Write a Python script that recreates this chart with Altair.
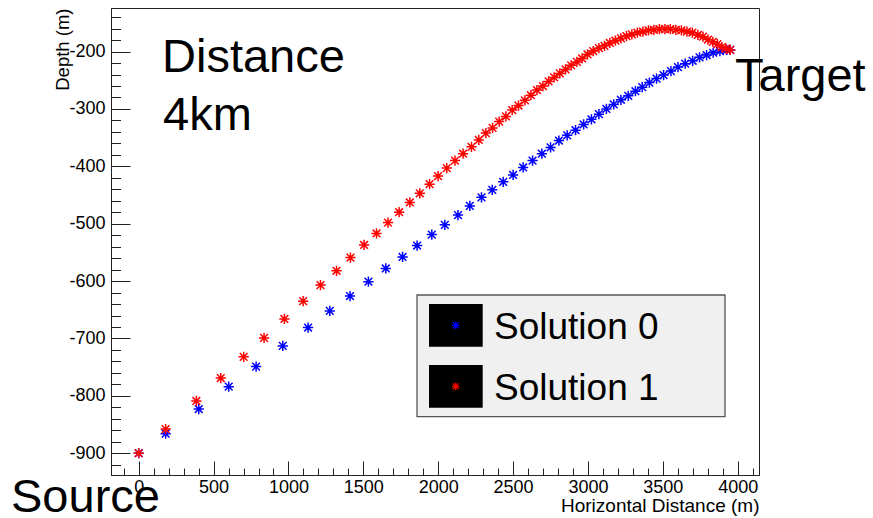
import altair as alt
import pandas as pd

# ---------------- data ----------------
series_names = ["Solution 0", "Solution 1"]
series_colors = ["#0000ff", "#ff0000"]

sol0_x = [0, 180, 401, 601, 784, 962, 1131, 1276, 1411, 1534, 1650, 1762, 1859, 1957,
          2044, 2132, 2211, 2289, 2361, 2434, 2500, 2567, 2630, 2692, 2750, 2806, 2861,
          2917, 2971, 3023, 3073, 3123, 3172, 3220, 3269, 3317, 3362, 3410, 3458, 3505,
          3554, 3601, 3649, 3699, 3745, 3792, 3836, 3881, 3926, 3950]
sol0_y = [-900, -866, -823, -784, -749, -713, -681, -652, -626, -601, -578, -558, -538, -519,
          -502, -485, -469, -454, -441, -427, -415, -402, -390, -378, -367, -355, -346,
          -337, -327, -318, -309, -300, -292, -284, -277, -269, -262, -254, -247, -241,
          -234, -227, -221, -216, -210, -206, -202, -199, -197, -197]

sol1_x = [0, 180, 385, 548, 701, 837, 973, 1098, 1214, 1321, 1414, 1505, 1588, 1665, 1739,
          1810, 1877, 1942, 1999, 2057, 2112, 2166, 2222, 2271, 2318, 2363, 2407, 2452,
          2494, 2536, 2579, 2619, 2659, 2699, 2737, 2774, 2812, 2850, 2888, 2926, 2961,
          2997, 3035, 3073, 3110, 3146, 3183, 3220, 3257, 3293, 3330, 3367, 3404, 3440,
          3477, 3514, 3550, 3587, 3624, 3661, 3697, 3734, 3768, 3801, 3834, 3864, 3894,
          3921, 3950]
sol1_y = [-900, -858, -809, -769, -732, -699, -666, -635, -607, -582, -559, -537, -517, -498,
          -480, -463, -447, -431, -417, -403, -390, -378, -366, -354, -342, -333, -322,
          -313, -302, -294, -285, -276, -267, -260, -252, -245, -238, -231, -224, -218,
          -212, -205, -199, -194, -190, -185, -181, -177, -173, -170, -167, -165, -163,
          -162, -161, -161, -161, -162, -163, -165, -167, -171, -174, -179, -183, -187,
          -192, -195, -197]

x_major = [0, 500, 1000, 1500, 2000, 2500, 3000, 3500, 4000]
x_minor = [v for v in range(-100, 4101, 100) if v % 500 != 0]
y_major = [-900, -800, -700, -600, -500, -400, -300, -200]
y_minor = [v for v in range(-920, -139, 20) if v % 100 != 0]

x_domain = [-185, 4142]
y_domain = [-938, -124]

x_title = "Horizontal Distance (m)"
y_title = "Depth (m)"
annot_distance = ["Distance", "4km"]
annot_target = "Target"
annot_source = "Source"

# ---------------- build ----------------
df = pd.concat([
    pd.DataFrame({"x": sol0_x, "y": sol0_y, "series": series_names[0]}),
    pd.DataFrame({"x": sol1_x, "y": sol1_y, "series": series_names[1]}),
], ignore_index=True)

FONT = "Liberation Sans"
W, H = 648, 467
STAR = "M-1,0L1,0M0,-1L0,1M-0.75,-0.75L0.75,0.75M-0.75,0.75L0.75,-0.75"

xs = alt.Scale(domain=x_domain, nice=False, zero=False)
ys = alt.Scale(domain=y_domain, nice=False, zero=False)

main_x_axis = alt.Axis(orient="bottom", values=x_major, ticks=False, grid=False,
                       labelFont=FONT, labelFontSize=18, labelColor="black", labelPadding=3.5,
                       labelExpr="'' + datum.value", labelFlush=False, labelOverlap=False,
                       domainColor="#222", domainWidth=1,
                       title=x_title, titleFont=FONT, titleFontSize=19, titleFontWeight="normal",
                       titleColor="black", titleAlign="right", titleAnchor="end",
                       titleBaseline="alphabetic", titleX=W, titleY=36.7)
main_y_axis = alt.Axis(orient="left", values=y_major, ticks=False, grid=False,
                       labelFont=FONT, labelFontSize=18, labelColor="black", labelPadding=6,
                       labelExpr="'' + datum.value", labelFlush=False, labelOverlap=False,
                       domainColor="#222", domainWidth=1,
                       title=y_title, titleFont=FONT, titleFontSize=18.5, titleFontWeight="normal",
                       titleColor="black", titleAngle=270, titleAlign="right", titleAnchor="end",
                       titleBaseline="alphabetic", titleX=-43, titleY=0)

points = alt.Chart(df).mark_point(shape=STAR, filled=False, size=105, strokeWidth=1.5, opacity=1).encode(
    x=alt.X("x:Q", scale=xs, axis=main_x_axis),
    y=alt.Y("y:Q", scale=ys, axis=main_y_axis),
    color=alt.Color("series:N", scale=alt.Scale(domain=series_names, range=series_colors), legend=None),
)


def tick_layer(xvals, yvals, xlen, ylen):
    return alt.Chart(df).mark_point(opacity=0).encode(
        x=alt.X("x:Q", scale=xs, axis=alt.Axis(orient="top", offset=-H, values=xvals, tickSize=xlen,
                                                labels=False, domain=False, grid=False, title=None,
                                                tickColor="#222", tickWidth=1)),
        y=alt.Y("y:Q", scale=ys, axis=alt.Axis(orient="right", offset=-W, values=yvals, tickSize=ylen,
                                                labels=False, domain=False, grid=False, title=None,
                                                tickColor="#222", tickWidth=1)),
    )


major_ticks = tick_layer(x_major, y_major, 14, 19)
minor_ticks = tick_layer(x_minor, y_minor, 7, 9.5)

one = pd.DataFrame({"k": [0]})


def label(text, x, y, size=47, align="left"):
    return alt.Chart(one).mark_text(text=text, font=FONT, fontSize=size, color="black",
                                     align=align, baseline="alphabetic").encode(
        x=alt.value(x), y=alt.value(y))


texts = [
    label(annot_distance[0], 51, 64),
    label(annot_distance[1], 52, 122),
    label(annot_target, 624, 82.7),
    label(annot_source, -100, 503.7),
]

legend_box = alt.Chart(one).mark_rect(fill="#f0f0f0", stroke="#555", strokeWidth=1.3).encode(
    x=alt.value(306), x2=alt.value(614), y=alt.value(287), y2=alt.value(408.7))

legend_layers = [legend_box]
row_tops = [296, 357]
for i, name in enumerate(series_names):
    top = row_tops[i]
    legend_layers.append(alt.Chart(one).mark_rect(fill="black").encode(
        x=alt.value(318), x2=alt.value(371.7), y=alt.value(top), y2=alt.value(top + 42.7)))
    legend_layers.append(alt.Chart(one).mark_point(shape=STAR, filled=False, size=60, strokeWidth=1.3,
                                                    color=series_colors[i], opacity=1).encode(
        x=alt.value(344.7), y=alt.value(top + 21.3)))
    legend_layers.append(label(name, 383, top + 35.3, size=37))

chart = alt.layer(minor_ticks, major_ticks, points, *texts, *legend_layers).resolve_axis(
    x="independent", y="independent"
).properties(
    width=W, height=H,
    autosize=alt.AutoSizeParams(type="none"),
    padding={"left": 111, "top": 8, "right": 114, "bottom": 43},
    background="white",
).configure_view(stroke="#222", strokeWidth=1)

chart.save("out.html", embed_options={"renderer": "svg", "actions": False})
